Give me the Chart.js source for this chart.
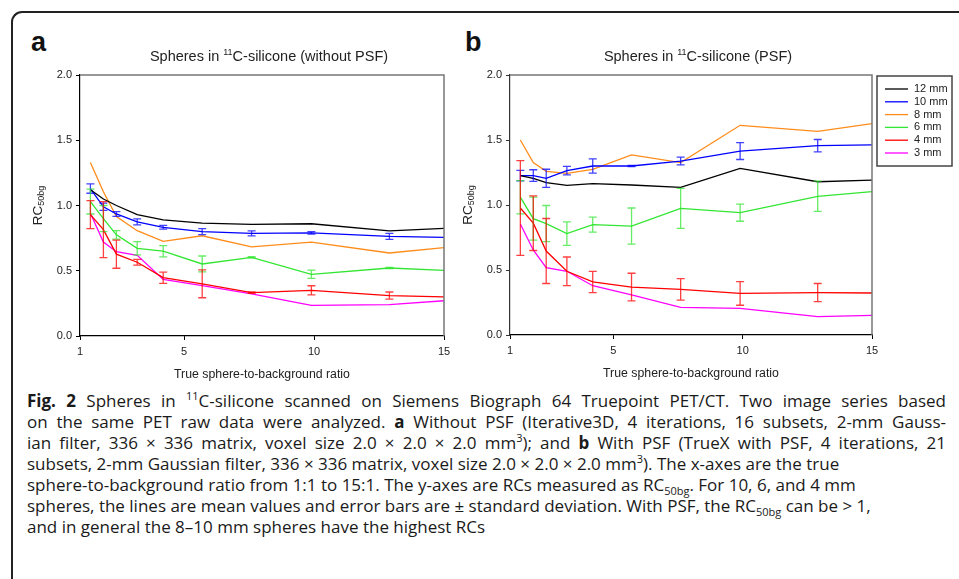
<!DOCTYPE html>
<html>
<head>
<meta charset="utf-8">
<script src="https://cdn.jsdelivr.net/npm/chart.js@4.4.1/dist/chart.umd.min.js"></script>
<style>
  html, body { margin: 0; padding: 0; background: #fff; }
  body { width: 959px; height: 579px; position: relative; overflow: hidden; font-family: "Liberation Sans", Arial, sans-serif; }
  .frame { position: absolute; left: 11px; top: 11px; width: 1000px; height: 1000px; border-top: 2px solid #222; border-left: 2px solid #222; border-top-left-radius: 11px; }
  .panel { position: absolute; font-weight: bold; font-size: 27px; line-height: 27px; color: #111; }
  #wa { position: absolute; left: 0; top: 0; width: 470px; height: 385px; }
  #wb { position: absolute; left: 440px; top: 0; width: 519px; height: 385px; }
  .cap { position: absolute; left: 27px; font-family: "Open Sans", sans-serif; font-size: 17px; line-height: 20px; color: #1a1a1a; white-space: nowrap; }
  .cap sup, .cap sub { font-size: 11px; line-height: 0; }
</style>
</head>
<body>
<div class="frame"></div>
<div class="panel" style="left:31px;top:29px;">a</div>
<div class="panel" style="left:465px;top:29px;">b</div>
<div id="wa"><canvas id="ca"></canvas></div>
<div id="wb"><canvas id="cb"></canvas></div>

<div class="cap j" style="top:391px;"><b>Fig. 2</b> Spheres in <sup>11</sup>C-silicone scanned on Siemens Biograph 64 Truepoint PET/CT. Two image series based</div>
<div class="cap j" style="top:412px;">on the same PET raw data were analyzed. <b>a</b> Without PSF (Iterative3D, 4 iterations, 16 subsets, 2-mm Gauss-</div>
<div class="cap j" style="top:433px;">ian filter, 336 × 336 matrix, voxel size 2.0 × 2.0 × 2.0 mm<sup>3</sup>); and <b>b</b> With PSF (TrueX with PSF, 4 iterations, 21</div>
<div class="cap" style="top:454px;">subsets, 2-mm Gaussian filter, 336 × 336 matrix, voxel size 2.0 × 2.0 × 2.0 mm<sup>3</sup>). The x-axes are the true</div>
<div class="cap" style="top:475px;">sphere-to-background ratio from 1:1 to 15:1. The y-axes are RCs measured as RC<sub>50bg</sub>. For 10, 6, and 4 mm</div>
<div class="cap" style="top:496px;">spheres, the lines are mean values and error bars are ± standard deviation. With PSF, the RC<sub>50bg</sub> can be &gt; 1,</div>
<div class="cap" style="top:517px;">and in general the 8–10 mm spheres have the highest RCs</div>

<script>
// x positions: true sphere-to-background ratios
const ratios = [1.4, 1.9, 2.4, 3.2, 4.2, 5.7, 7.6, 9.9, 12.9, 15];
const xTicks = [1, 5, 10, 15];
const sizes = ['12 mm', '10 mm', '8 mm', '6 mm', '4 mm', '3 mm'];
const colors = ['#000000', '#0000ff', '#ff8c1a', '#33e633', '#ff0000', '#ff00ff'];

// panel a: without PSF
const a12 = [1.12, 1.05, 1.00, 0.93, 0.89, 0.865, 0.855, 0.86, 0.805, 0.825];
const a10 = [1.13, 0.99, 0.935, 0.875, 0.833, 0.80, 0.787, 0.79, 0.763, 0.756];
const a8  = [1.33, 1.105, 0.915, 0.807, 0.725, 0.768, 0.683, 0.72, 0.636, 0.677];
const a6  = [1.03, 0.90, 0.775, 0.672, 0.65, 0.552, 0.603, 0.473, 0.521, 0.503];
const a4  = [0.93, 0.815, 0.627, 0.565, 0.447, 0.40, 0.332, 0.35, 0.31, 0.30];
const a3  = [0.94, 0.72, 0.646, 0.618, 0.434, 0.386, 0.322, 0.235, 0.24, 0.27];
const a10sd = [0.036, 0.028, 0.018, 0.023, 0.014, 0.023, 0.019, 0.010, 0.023, 0];
const a6sd  = [0.095, 0.10, 0.033, 0.051, 0.043, 0.061, 0.005, 0.032, 0.005, 0];
const a4sd  = [0.107, 0.215, 0.108, 0.022, 0.043, 0.107, 0.005, 0.035, 0.027, 0];

// panel b: with PSF
const b12 = [1.226, 1.205, 1.172, 1.151, 1.164, 1.154, 1.136, 1.282, 1.179, 1.192];
const b10 = [1.226, 1.226, 1.205, 1.264, 1.30, 1.30, 1.338, 1.415, 1.456, 1.462];
const b8  = [1.50, 1.326, 1.259, 1.244, 1.274, 1.385, 1.326, 1.613, 1.567, 1.626];
const b6  = [1.06, 0.895, 0.857, 0.78, 0.849, 0.838, 0.974, 0.941, 1.067, 1.103];
const b4  = [0.977, 0.86, 0.646, 0.49, 0.408, 0.369, 0.351, 0.32, 0.326, 0.323];
const b3  = [0.854, 0.654, 0.518, 0.49, 0.379, 0.308, 0.213, 0.205, 0.141, 0.151];
const b10sd = [0.04, 0.045, 0.07, 0.033, 0.055, 0.005, 0.03, 0.065, 0.048, 0];
const b6sd  = [0.128, 0.165, 0.139, 0.09, 0.058, 0.139, 0.154, 0.066, 0.116, 0];
const b4sd  = [0.364, 0.21, 0.25, 0.11, 0.082, 0.106, 0.083, 0.091, 0.07, 0];

const FONT = '"Liberation Sans", Arial, sans-serif';
Chart.defaults.font.family = FONT;
Chart.defaults.color = '#222';

function makeSets(vals, sds) {
  return vals.map((v, i) => ({
    label: sizes[i],
    data: ratios.map((x, j) => ({ x, y: v[j] })),
    sd: sds[i],
    borderColor: colors[i],
    backgroundColor: colors[i],
    borderWidth: 1.3,
    pointRadius: 0,
    tension: 0,
    fill: false,
  }));
}

// error bars (± SD) drawn through the scales
const errorBars = {
  id: 'errorBars',
  afterDatasetsDraw(chart) {
    const { ctx, scales: { x, y } } = chart;
    chart.data.datasets.forEach(ds => {
      if (!ds.sd) return;
      ctx.save();
      ctx.strokeStyle = ds.borderColor;
      ctx.globalAlpha = 0.75;
      ctx.lineWidth = 1.3;
      ds.data.forEach((p, j) => {
        const s = ds.sd[j];
        if (!s) return;
        const px = x.getPixelForValue(p.x);
        const t = y.getPixelForValue(p.y + s);
        const b = y.getPixelForValue(p.y - s);
        ctx.beginPath();
        ctx.moveTo(px, t); ctx.lineTo(px, b);
        ctx.moveTo(px - 4, t); ctx.lineTo(px + 4, t);
        ctx.moveTo(px - 4, b); ctx.lineTo(px + 4, b);
        ctx.stroke();
      });
      ctx.restore();
    });
  }
};

// gray top/right frame, title with superscript, y title with subscript, legend
const decor = {
  id: 'decor',
  afterDraw(chart, args, opts) {
    const { ctx, chartArea: ca } = chart;
    ctx.save();
    ctx.strokeStyle = '#777';
    ctx.lineWidth = 1.5;
    ctx.beginPath();
    ctx.moveTo(ca.left, ca.top); ctx.lineTo(ca.right, ca.top); ctx.lineTo(ca.right, ca.bottom);
    ctx.stroke();

    // title
    ctx.fillStyle = '#222';
    ctx.textBaseline = 'alphabetic';
    const big = '14.5px ' + FONT, small = '9px ' + FONT;
    ctx.font = big;
    const w1 = ctx.measureText(opts.pre).width, w3 = ctx.measureText(opts.post).width;
    ctx.font = small;
    const w2 = ctx.measureText(opts.sup).width;
    let tx = (ca.left + ca.right) / 2 + 7 - (w1 + w2 + w3) / 2;
    const ty = 61;
    ctx.font = big; ctx.fillText(opts.pre, tx, ty); tx += w1;
    ctx.font = small; ctx.fillText(opts.sup, tx, ty - 6); tx += w2;
    ctx.font = big; ctx.fillText(opts.post, tx, ty);

    // y title RC50bg
    ctx.translate(ca.left - 42, (ca.top + ca.bottom) / 2);
    ctx.rotate(-Math.PI / 2);
    const yb = '13.5px ' + FONT, ys = '9px ' + FONT;
    ctx.font = yb; const r1 = ctx.measureText('RC').width;
    ctx.font = ys; const r2 = ctx.measureText('50bg').width;
    ctx.textBaseline = 'middle';
    ctx.font = yb; ctx.fillText('RC', -(r1 + r2) / 2, 0);
    ctx.font = ys; ctx.fillText('50bg', -(r1 + r2) / 2 + r1, 4);
    ctx.restore();

    if (opts.legend) {
      const lx = ca.right + 5, ly = 76;
      ctx.save();
      ctx.strokeStyle = '#444';
      ctx.lineWidth = 1.5;
      ctx.strokeRect(lx, ly, 75, 90);
      ctx.font = '11px ' + FONT;
      ctx.textBaseline = 'middle';
      chart.data.datasets.forEach((ds, i) => {
        const ry = ly + 13 + i * 12.8;
        ctx.strokeStyle = ds.borderColor;
        ctx.lineWidth = 1.3;
        ctx.beginPath(); ctx.moveTo(lx + 8, ry); ctx.lineTo(lx + 31, ry); ctx.stroke();
        ctx.fillStyle = '#222';
        ctx.fillText(ds.label, lx + 37, ry);
      });
      ctx.restore();
    }
  }
};

function makeChart(id, sets, pad, leftColor, deco) {
  return new Chart(document.getElementById(id), {
    type: 'line',
    data: { datasets: sets },
    options: {
      responsive: true,
      maintainAspectRatio: false,
      animation: false,
      layout: { padding: pad },
      plugins: { legend: { display: false }, tooltip: { enabled: false }, decor: deco },
      scales: {
        x: {
          type: 'linear', min: 1, max: 15,
          afterBuildTicks: s => { s.ticks = xTicks.map(v => ({ value: v })); },
          afterFit: s => { s.height = 47; },
          grid: { display: true, drawOnChartArea: false, drawTicks: true, tickLength: 4, color: '#000' },
          border: { display: true, color: '#000', width: 1.2 },
          ticks: { font: { size: 11 }, padding: 5, maxRotation: 0 },
          title: { display: true, text: 'True sphere-to-background ratio', font: { size: 12.3 }, padding: { top: 0, bottom: 1 } },
        },
        y: {
          min: 0, max: 2,
          afterFit: s => { s.width = 50; },
          grid: { display: true, drawOnChartArea: false, drawTicks: true, tickLength: 4, color: leftColor },
          border: { display: true, color: leftColor, width: 1.2 },
          ticks: { stepSize: 0.5, font: { size: 11 }, padding: 4, callback: v => v.toFixed(1) },
        },
      },
    },
    plugins: [errorBars, decor],
  });
}

makeChart('ca', makeSets([a12, a10, a8, a6, a4, a3], [null, a10sd, null, a6sd, a4sd, null]),
  { left: 30, top: 75, right: 26, bottom: 2 }, '#000',
  { pre: 'Spheres in ', sup: '11', post: 'C-silicone (without PSF)', legend: false });

makeChart('cb', makeSets([b12, b10, b8, b6, b4, b3], [null, b10sd, null, b6sd, b4sd, null]),
  { left: 20, top: 75, right: 87, bottom: 3 }, '#333',
  { pre: 'Spheres in ', sup: '11', post: 'C-silicone (PSF)', legend: true });

// stretch justified caption lines to the text block width
document.fonts.ready.then(() => {
  document.querySelectorAll('.cap.j').forEach(el => {
    const spaces = (el.textContent.match(/ /g) || []).length;
    const extra = 919 - el.getBoundingClientRect().width;
    el.style.wordSpacing = (extra / spaces) + 'px';
  });
});
</script>
</body>
</html>
